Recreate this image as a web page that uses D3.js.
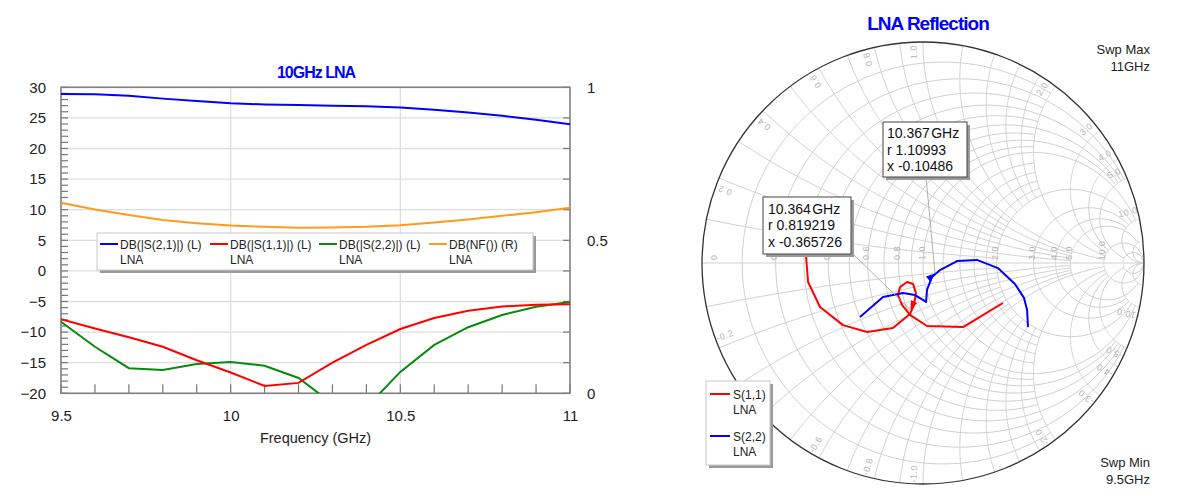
<!DOCTYPE html>
<html><head><meta charset="utf-8">
<script src="https://cdn.jsdelivr.net/npm/d3@7"></script>
<style>
html,body{margin:0;padding:0;background:#fff;}
svg{display:block;font-family:"Liberation Sans",Arial,Helvetica,sans-serif;}
</style></head><body>
<svg id="c" width="1200" height="498"></svg>
<script>
// ---------------- DATA (left rectangular plot) ----------------
const freqs   = [9.5,9.6,9.7,9.8,9.9,10.0,10.1,10.2,10.3,10.4,10.5,10.6,10.7,10.8,10.9,11.0];
const s21dB   = [28.9,28.85,28.6,28.15,27.75,27.4,27.2,27.1,27.0,26.9,26.7,26.35,25.9,25.35,24.7,23.95];
const s11dB   = [-7.9,-9.4,-10.85,-12.4,-14.6,-16.6,-18.8,-18.3,-15.0,-12.1,-9.5,-7.7,-6.5,-5.8,-5.55,-5.45];
const s22dB   = [-8.3,-12.4,-15.9,-16.2,-15.2,-14.9,-15.5,-17.5,-21.7,-22.3,-16.5,-12.1,-9.2,-7.2,-5.85,-5.1];
const nfRight = [0.623,0.601,0.583,0.566,0.556,0.548,0.544,0.541,0.542,0.544,0.549,0.558,0.568,0.58,0.592,0.606];
const xTickVals   = [9.5,10,10.5,11];
const xTickLabels = ["9.5","10","10.5","11"];
const yLeftTicks  = [30,25,20,15,10,5,0,-5,-10,-15,-20];
const yRightTicks = [1,0.5,0];
const yRightLabels= ["1","0.5","0"];
const legendNames = ["DB(|S(2,1)|) (L)","DB(|S(1,1)|) (L)","DB(|S(2,2)|) (L)","DB(NF()) (R)"];
const legendSub   = ["LNA","LNA","LNA","LNA"];

// ---------------- DATA (Smith chart, reflection coefficient re/im) ----------------
const s11Re = [0.362,0.181,0.018,-0.059,-0.095,-0.113,-0.104,-0.072,-0.045,-0.032,-0.041,-0.059,-0.136,-0.253,-0.362,-0.466,-0.520,-0.529];
const s11Im = [-0.181,-0.290,-0.285,-0.235,-0.190,-0.145,-0.109,-0.086,-0.095,-0.136,-0.190,-0.231,-0.294,-0.312,-0.281,-0.199,-0.086,0.027];
const s22Re = [-0.285,-0.181,-0.090,-0.036,0.014,0.018,0.041,0.077,0.154,0.244,0.339,0.416,0.457,0.471,0.475];
const s22Im = [-0.244,-0.154,-0.136,-0.145,-0.176,-0.122,-0.063,-0.032,0.009,0.014,-0.023,-0.095,-0.158,-0.213,-0.290];
const markerFreq  = ["10.364","10.367"];
const markerR     = [0.819219,1.10993];
const markerX     = [-0.365726,-0.10486];
const markerTrace = ["s11","s22"];
const smithLegend = ["S(1,1)","S(2,2)"];
const realAxisLabels = [0,0.2,0.4,0.6,0.8,1.0,2.0,3.0,4.0,5.0,10.0];
const reactLabels    = [0.2,0.4,0.6,0.8,1.0,2.0,3.0,4.0,5.0,10.0];

const svg = d3.select("#c");
const BLUE="#0000ff", RED="#ff0000", GREEN="#0a8a0a", ORANGE="#ff9a1a";

// ================= LEFT CHART =================
const L = {x0:61, x1:570, y0:87.3, y1:393.3};
const x  = d3.scaleLinear().domain([9.5,11]).range([L.x0,L.x1]);
const yL = d3.scaleLinear().domain([-20,30]).range([L.y1,L.y0]);
const yR = d3.scaleLinear().domain([0,1]).range([L.y1,L.y0]);

const lg = svg.append("g");
svg.append("defs").append("clipPath").attr("id","plotclip")
  .append("rect").attr("x",L.x0).attr("y",L.y0).attr("width",L.x1-L.x0).attr("height",L.y1-L.y0);

// grid
lg.selectAll(".hg").data(yLeftTicks).join("line")
  .attr("x1",L.x0).attr("x2",L.x1).attr("y1",d=>yL(d)).attr("y2",d=>yL(d))
  .attr("stroke","#dedede").attr("stroke-width",1.3);
lg.selectAll(".vg").data(xTickVals.slice(1,-1)).join("line")
  .attr("x1",d=>x(d)).attr("x2",d=>x(d)).attr("y1",L.y0).attr("y2",L.y1)
  .attr("stroke","#dedede").attr("stroke-width",1.3);

// minor ticks
const tickCol="#777";
lg.selectAll(".lt").data(d3.range(-20,31,1)).join("line")
  .attr("x1",L.x0).attr("x2",L.x0+7).attr("y1",d=>yL(d)).attr("y2",d=>yL(d))
  .attr("stroke",tickCol).attr("stroke-width",1.2);
lg.selectAll(".bt").data(d3.range(0,16).map(i=>9.5+i*0.1)).join("line")
  .attr("x1",d=>x(d)).attr("x2",d=>x(d)).attr("y1",L.y1).attr("y2",L.y1-9)
  .attr("stroke",tickCol).attr("stroke-width",1.2);
lg.selectAll(".rt").data(d3.range(0,11).map(i=>i*0.1)).join("line")
  .attr("x1",L.x1-7).attr("x2",L.x1).attr("y1",d=>yR(d)).attr("y2",d=>yR(d))
  .attr("stroke",tickCol).attr("stroke-width",1.2);

// frame
lg.append("rect").attr("x",L.x0).attr("y",L.y0).attr("width",L.x1-L.x0).attr("height",L.y1-L.y0)
  .attr("fill","none").attr("stroke","#808080").attr("stroke-width",1.6);

// axes labels
const axL = lg.append("g").attr("transform",`translate(${L.x0},0)`)
  .call(d3.axisLeft(yL).tickValues(yLeftTicks).tickSize(0).tickPadding(15).tickFormat(d3.format("d")));
const axB = lg.append("g").attr("transform",`translate(0,${L.y1})`)
  .call(d3.axisBottom(x).tickValues(xTickVals).tickSize(0).tickPadding(19).tickFormat((d,i)=>xTickLabels[i]));
const axR = lg.append("g").attr("transform",`translate(${L.x1},0)`)
  .call(d3.axisRight(yR).tickValues(yRightTicks).tickSize(0).tickPadding(17).tickFormat((d,i)=>yRightLabels[i]));
[axL,axB,axR].forEach(a=>{
  a.select(".domain").remove();
  a.selectAll("text").attr("font-size",15).attr("fill","#222").attr("font-family","Liberation Sans, Arial, sans-serif");
});
axB.selectAll("text").attr("dy","0.55em");

lg.append("text").attr("x",(L.x0+L.x1)/2).attr("y",443).attr("text-anchor","middle")
  .attr("font-size",14.5).attr("fill","#222").text("Frequency (GHz)");
lg.append("text").attr("x",316).attr("y",78).attr("text-anchor","middle")
  .attr("font-size",16).attr("font-weight","bold").attr("letter-spacing",-1).attr("fill",BLUE).text("10GHz LNA");

// traces
const lineL = d3.line().x((d,i)=>x(freqs[i])).y(d=>yL(d));
const lineR = d3.line().x((d,i)=>x(freqs[i])).y(d=>yR(d));
const tg = lg.append("g").attr("clip-path","url(#plotclip)");
tg.append("path").attr("d",lineL(s22dB)).attr("fill","none").attr("stroke",GREEN).attr("stroke-width",2);
tg.append("path").attr("d",lineL(s11dB)).attr("fill","none").attr("stroke",RED).attr("stroke-width",2);
tg.append("path").attr("d",lineR(nfRight)).attr("fill","none").attr("stroke",ORANGE).attr("stroke-width",2);
tg.append("path").attr("d",lineL(s21dB)).attr("fill","none").attr("stroke",BLUE).attr("stroke-width",2);

// legend
const legCols=[BLUE,RED,GREEN,ORANGE];
const legTextX=[120,230,339,449];
const leg = lg.append("g");
leg.append("rect").attr("x",100).attr("y",236).attr("width",436).attr("height",37).attr("fill","#9a9a9a");
leg.append("rect").attr("x",97).attr("y",233).attr("width",436).attr("height",37).attr("fill","#fff").attr("stroke","#c8c8c8").attr("stroke-width",1);
legendNames.forEach((n,i)=>{
  leg.append("line").attr("x1",legTextX[i]-20).attr("x2",legTextX[i]-2).attr("y1",244).attr("y2",244)
    .attr("stroke",legCols[i]).attr("stroke-width",2);
  leg.append("text").attr("x",legTextX[i]).attr("y",248.5).attr("font-size",12).attr("fill","#222").text(n);
  leg.append("text").attr("x",legTextX[i]).attr("y",263.5).attr("font-size",12).attr("fill","#222").text(legendSub[i]);
});

// ================= SMITH CHART =================
const S = {cx:923, cy:263, R:221};
const gx = d3.scaleLinear().domain([-1,1]).range([S.cx-S.R,S.cx+S.R]);
const gy = d3.scaleLinear().domain([-1,1]).range([S.cy+S.R,S.cy-S.R]);
function gam(r,xx){const d=(r+1)*(r+1)+xx*xx; return [(r*r-1+xx*xx)/d, 2*xx/d];}
svg.select("defs").append("clipPath").attr("id","smclip")
  .append("circle").attr("cx",S.cx).attr("cy",S.cy).attr("r",S.R);
const sg = svg.append("g");
const grid = sg.append("g").attr("clip-path","url(#smclip)");
const gl = d3.line().x(p=>gx(p[0])).y(p=>gy(p[1]));
const GRID="#cfcfcf";

const rLines=[[0.1,2],[0.2,5],[0.3,2],[0.4,5],[0.5,2],[0.6,5],[0.7,2],[0.8,5],[0.9,2],[1,10],
  [1.2,2],[1.4,2],[1.6,2],[1.8,2],[2,10],[3,10],[4,10],[5,20],[10,1e6],[20,1e6]];
const xLines=[[0.1,2],[0.2,5],[0.3,2],[0.4,5],[0.5,2],[0.6,5],[0.7,2],[0.8,5],[0.9,2],[1,10],
  [1.2,2],[1.4,2],[1.6,2],[1.8,2],[2,10],[3,10],[4,10],[5,20],[10,1e6],[20,1e6]];
rLines.forEach(([r,xm])=>{
  const a=Math.atan(xm), n=160;
  const pts=d3.range(n+1).map(i=>gam(r,Math.tan(-a+2*a*i/n)));
  grid.append("path").attr("d",gl(pts)).attr("fill","none").attr("stroke",GRID).attr("stroke-width",1);
});
xLines.forEach(([xv,rm])=>{
  const a=Math.atan(rm), n=160;
  [1,-1].forEach(s=>{
    const pts=d3.range(n+1).map(i=>gam(Math.tan(a*i/n),s*xv));
    grid.append("path").attr("d",gl(pts)).attr("fill","none").attr("stroke",GRID).attr("stroke-width",1);
  });
});
grid.append("line").attr("x1",gx(-1)).attr("x2",gx(1)).attr("y1",gy(0)).attr("y2",gy(0))
  .attr("stroke",GRID).attr("stroke-width",1);

// grid labels
const LBL="#b4b4b4";
realAxisLabels.forEach(r=>{
  const px = gx(gam(r,0)[0]) + (r===0?15:1.5);
  sg.append("text").attr("transform",`translate(${px},${S.cy-3}) rotate(-90)`)
    .attr("font-size",9).attr("fill",LBL).attr("letter-spacing",0.5).text(r===0?"0":r.toFixed(1));
});
reactLabels.forEach(xv=>{
  [1,-1].forEach(s=>{
    const p=gam(0,s*xv);
    const th=Math.atan2(p[1],p[0]) + s*2.5*Math.PI/180;
    const rr=0.955;
    const lx=gx(rr*Math.cos(th)), ly=gy(rr*Math.sin(th));
    const rot=-th*180/Math.PI + (s<0?180:0);
    sg.append("text").attr("transform",`translate(${lx},${ly}) rotate(${rot})`)
      .attr("text-anchor","middle").attr("dominant-baseline","central")
      .attr("font-size",9).attr("fill",LBL).attr("letter-spacing",0.5)
      .text((s<0?"-":"")+xv.toFixed(1));
  });
});

// outer circle
sg.append("circle").attr("cx",S.cx).attr("cy",S.cy).attr("r",S.R)
  .attr("fill","none").attr("stroke","#333").attr("stroke-width",1.3);

// traces
const traces = {
  s11: s11Re.map((v,i)=>[v,s11Im[i]]),
  s22: s22Re.map((v,i)=>[v,s22Im[i]])
};
const traceCol={s11:RED,s22:BLUE};
sg.append("path").attr("d",gl(traces.s11)).attr("fill","none").attr("stroke",RED).attr("stroke-width",2).attr("stroke-linejoin","round");
sg.append("path").attr("d",gl(traces.s22)).attr("fill","none").attr("stroke",BLUE).attr("stroke-width",2).attr("stroke-linejoin","round");

// markers
const boxes=[{x:763,y:197,w:88,h:57,tx:768,by:[214,230,246.5],lead:[852,253]},
             {x:883,y:122,w:84,h:55,tx:887,by:[138,154.5,171],lead:[926,177]}];
markerFreq.forEach((f,i)=>{
  const g0=gam(markerR[i],markerX[i]);
  const mx=gx(g0[0]), my=gy(g0[1]);
  const pts=traces[markerTrace[i]].map(p=>[gx(p[0]),gy(p[1])]);
  let best=1e9, dir=[0,1];
  for(let k=0;k<pts.length-1;k++){
    const a=pts[k], b=pts[k+1];
    const vx=b[0]-a[0], vy=b[1]-a[1], L2=vx*vx+vy*vy;
    let t=((mx-a[0])*vx+(my-a[1])*vy)/L2; t=Math.max(0,Math.min(1,t));
    const dx=a[0]+t*vx-mx, dy=a[1]+t*vy-my, d=dx*dx+dy*dy;
    if(d<best){best=d; const l=Math.sqrt(L2); dir=[vx/l,vy/l];}
  }
  const b=boxes[i];
  sg.append("line").attr("x1",b.lead[0]).attr("y1",b.lead[1]).attr("x2",mx).attr("y2",my)
    .attr("stroke","#9a9a9a").attr("stroke-width",0.8);
  const len=9, hw=3.5;
  const bx=mx-dir[0]*len, by=my-dir[1]*len;
  const nx=-dir[1], ny=dir[0];
  sg.append("path").attr("d",`M${mx},${my}L${bx+nx*hw},${by+ny*hw}L${bx-nx*hw},${by-ny*hw}Z`)
    .attr("fill",traceCol[markerTrace[i]]);
  sg.append("rect").attr("x",b.x+3).attr("y",b.y+3).attr("width",b.w).attr("height",b.h).attr("fill","#9a9a9a");
  sg.append("rect").attr("x",b.x).attr("y",b.y).attr("width",b.w).attr("height",b.h)
    .attr("fill","#fff").attr("stroke","#444").attr("stroke-width",1);
  const lines=[f+" GHz","r "+markerR[i],"x "+markerX[i]];
  lines.forEach((t,j)=>{
    sg.append("text").attr("x",b.tx).attr("y",b.by[j]).attr("font-size",14).attr("fill","#111")
      .attr("word-spacing",j===0?-2.5:0).text(t);
  });
});

// smith title & sweep labels
sg.append("text").attr("x",928).attr("y",30).attr("text-anchor","middle")
  .attr("font-size",19).attr("font-weight","bold").attr("letter-spacing",-1).attr("fill",BLUE).text("LNA Reflection");
[["Swp Max",54],["11GHz",71],["Swp Min",467],["9.5GHz",484]].forEach(([t,y])=>{
  sg.append("text").attr("x",1150).attr("y",y).attr("text-anchor","end").attr("font-size",13).attr("fill","#222").text(t);
});

// smith legend
const sl = sg.append("g");
sl.append("rect").attr("x",709).attr("y",384).attr("width",64).attr("height",84).attr("fill","#9a9a9a");
sl.append("rect").attr("x",706).attr("y",381).attr("width",64).attr("height",84).attr("fill","#fff").attr("stroke","#c8c8c8");
smithLegend.forEach((n,i)=>{
  const yy=394+i*42;
  sl.append("line").attr("x1",710).attr("x2",730).attr("y1",yy).attr("y2",yy).attr("stroke",i===0?RED:BLUE).attr("stroke-width",2);
  sl.append("text").attr("x",733).attr("y",yy+4.5).attr("font-size",12).attr("fill","#222").text(n);
  sl.append("text").attr("x",733).attr("y",yy+20).attr("font-size",12).attr("fill","#222").text("LNA");
});
</script>
</body></html>
